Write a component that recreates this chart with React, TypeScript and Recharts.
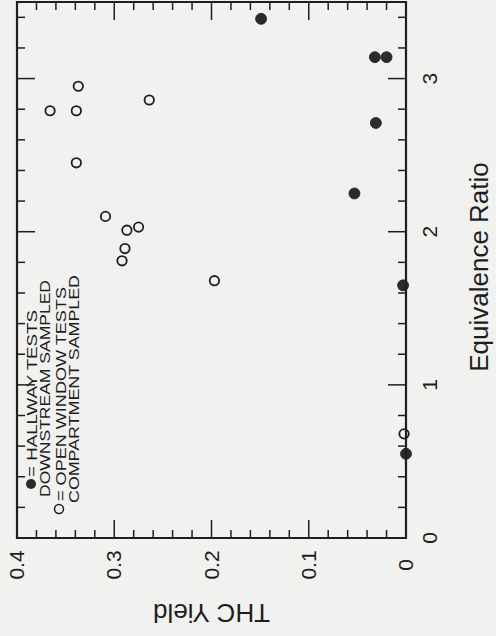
import React from 'react';
import { ScatterChart, Scatter, XAxis, YAxis } from 'recharts';

// Values (THC yield vs. equivalence ratio)
const hallwayThc = [0.149, 0.032, 0.02, 0.031, 0.053, 0.003, 0.0];
const hallwayEq = [3.39, 3.14, 3.14, 2.71, 2.25, 1.65, 0.55];

const openThc = [0.337, 0.366, 0.339, 0.264, 0.339, 0.309, 0.287, 0.275, 0.289, 0.292, 0.197, 0.002];
const openEq = [2.95, 2.79, 2.79, 2.86, 2.45, 2.1, 2.01, 2.03, 1.89, 1.81, 1.68, 0.68];

const thcTicks = [
  0, 0.02, 0.04, 0.06, 0.08, 0.1, 0.12, 0.14, 0.16, 0.18, 0.2,
  0.22, 0.24, 0.26, 0.28, 0.3, 0.32, 0.34, 0.36, 0.38, 0.4,
];
const eqTicks = [0, 0.2, 0.4, 0.6, 0.8, 1, 1.2, 1.4, 1.6, 1.8, 2, 2.2, 2.4, 2.6, 2.8, 3, 3.2, 3.4];

const legendLines = [
  '= HALLWAY TESTS',
  'DOWNSTREAM SAMPLED',
  '= OPEN WINDOW TESTS',
  'COMPARTMENT SAMPLED',
];

const hallway = hallwayThc.map((t, i) => ({ thc: t, eq: hallwayEq[i] }));
const openWindow = openThc.map((t, i) => ({ thc: t, eq: openEq[i] }));

const INK = '#1e1e1e';
const BG = '#f1f1ef';
const FONT = '"Liberation Sans", Arial, Helvetica, sans-serif';

// plot frame edges (px) - ticks are drawn inward from these
const PLOT_TOP = 2;
const PLOT_BOTTOM = 538;
const PLOT_LEFT = 17;
const PLOT_RIGHT = 406;

const isMajor = (v: number, step: number) => Math.abs(v / step - Math.round(v / step)) < 1e-6;
const fmt = (v: number) => String(Math.round(v * 10) / 10);

// bottom axis tick also draws the mirrored tick on the top edge
const BottomTick = ({ x, payload }: any) => {
  const major = isMajor(payload.value, 0.1);
  const len = major ? 18 : 8;
  const ly = PLOT_BOTTOM + 27;
  return (
    <g>
      <line x1={x} y1={PLOT_BOTTOM} x2={x} y2={PLOT_BOTTOM - len} stroke={INK} strokeWidth={1.5} />
      <line x1={x} y1={PLOT_TOP} x2={x} y2={PLOT_TOP + len} stroke={INK} strokeWidth={1.5} />
      {major && (
        <text
          x={x + 7}
          y={ly}
          transform={`rotate(-90 ${x + 7} ${ly})`}
          textAnchor="middle"
          fontSize={21}
          fontFamily={FONT}
          fill={INK}
        >
          {fmt(payload.value)}
        </text>
      )}
    </g>
  );
};

// right axis tick also draws the mirrored tick on the left edge
const RightTick = ({ y, payload }: any) => {
  const major = isMajor(payload.value, 1);
  const len = major ? 18 : 8;
  const lx = PLOT_RIGHT + 31;
  return (
    <g>
      <line x1={PLOT_RIGHT} y1={y} x2={PLOT_RIGHT - len} y2={y} stroke={INK} strokeWidth={1.5} />
      <line x1={PLOT_LEFT} y1={y} x2={PLOT_LEFT + len} y2={y} stroke={INK} strokeWidth={1.5} />
      {major && (
        <text
          x={lx}
          y={y}
          transform={`rotate(-90 ${lx} ${y})`}
          textAnchor="middle"
          fontSize={21}
          fontFamily={FONT}
          fill={INK}
        >
          {fmt(payload.value)}
        </text>
      )}
    </g>
  );
};

const XTitle = ({ viewBox }: any) => {
  const cx = viewBox.x + viewBox.width / 2;
  const cy = PLOT_BOTTOM + 66;
  return (
    <text x={cx} y={cy} transform={`rotate(180 ${cx} ${cy})`} textAnchor="middle" fontSize={26} fontFamily={FONT} fill={INK}>
      THC Yield
    </text>
  );
};

const YTitle = ({ viewBox }: any) => {
  const cx = PLOT_RIGHT + 82;
  const cy = viewBox.y + viewBox.height / 2 - 3;
  return (
    <text x={cx} y={cy} transform={`rotate(-90 ${cx} ${cy})`} textAnchor="middle" fontSize={26} fontFamily={FONT} fill={INK}>
      Equivalence Ratio
    </text>
  );
};

const FilledDot = ({ cx, cy }: any) => <circle cx={cx} cy={cy} r={5.5} fill="#2b2b2b" stroke={INK} strokeWidth={0.8} />;
const OpenDot = ({ cx, cy }: any) => <circle cx={cx} cy={cy} r={4.7} fill={BG} stroke={INK} strokeWidth={1.8} />;

// legend lines: [baseline x, start y, length]
const legendPos = [
  [37, 477, 167],
  [49.5, 497, 217],
  [65.5, 501, 214],
  [78.5, 503, 228],
];

export default function App() {
  return (
    <div style={{ position: 'absolute', left: 0, top: 0, width: 496, height: 636, background: BG }}>
      <ScatterChart width={496} height={636} margin={{ top: PLOT_TOP, right: 0, bottom: 0, left: PLOT_LEFT }}>
        <XAxis
          type="number"
          dataKey="thc"
          domain={[0, 0.4]}
          reversed
          ticks={thcTicks}
          interval={0}
          height={98}
          tick={<BottomTick />}
          tickLine={false}
          axisLine={false}
          label={<XTitle />}
        />
        <YAxis
          orientation="right"
          type="number"
          dataKey="eq"
          domain={[0, 3.5]}
          ticks={eqTicks}
          interval={0}
          width={90}
          tick={<RightTick />}
          tickLine={false}
          axisLine={false}
          label={<YTitle />}
        />
        <Scatter
          name="Open window tests"
          data={openWindow}
          shape={<OpenDot />}
          isAnimationActive={false}
        />
        <Scatter
          name="Hallway tests"
          data={hallway}
          shape={<FilledDot />}
          isAnimationActive={false}
        />
      </ScatterChart>
      <svg width={496} height={636} style={{ position: 'absolute', left: 0, top: 0, pointerEvents: 'none' }}>
        <path
          d={`M${PLOT_LEFT},${PLOT_TOP} H${PLOT_RIGHT} V${PLOT_BOTTOM} H${PLOT_LEFT} Z`}
          fill="none"
          stroke={INK}
          strokeWidth={2.2}
        />
        <circle cx={31} cy={484} r={5} fill="#2b2b2b" />
        <circle cx={59} cy={509} r={4.5} fill="none" stroke={INK} strokeWidth={1.5} />
        {legendLines.map((line, i) => {
          const [bx, sy, len] = legendPos[i];
          return (
            <text
              key={line}
              x={bx}
              y={sy}
              transform={`rotate(-90 ${bx} ${sy})`}
              fontSize={15.5}
              fontFamily={FONT}
              fill={INK}
              textLength={len}
              lengthAdjust="spacingAndGlyphs"
            >
              {line}
            </text>
          );
        })}
      </svg>
    </div>
  );
}
